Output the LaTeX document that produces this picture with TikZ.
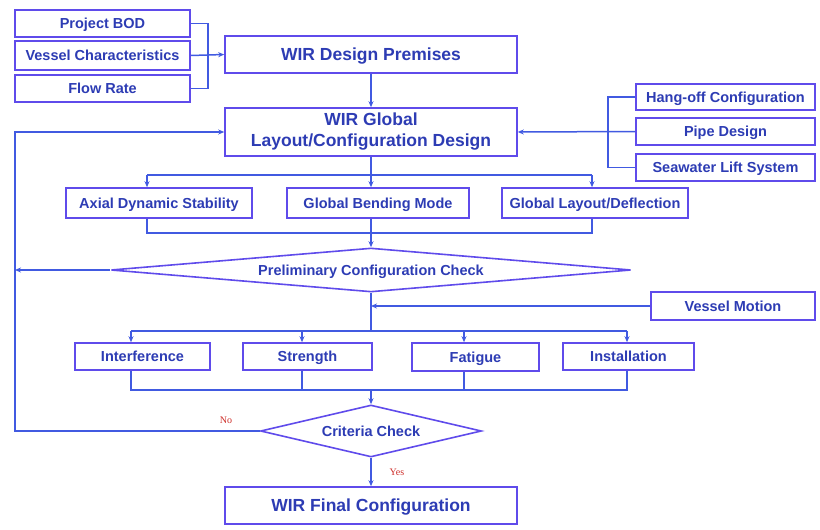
\documentclass[tikz,border=0pt]{standalone}
\usepackage{fontspec}
\setmainfont{Liberation Sans}
\newfontfamily\labserif{Liberation Serif}
\usetikzlibrary{arrows.meta,shapes.geometric}
\definecolor{boxc}{RGB}{95,75,235}
\definecolor{linec}{RGB}{65,90,225}
\definecolor{textc}{RGB}{45,60,180}
\definecolor{redc}{RGB}{205,45,40}
\tikzset{
  box/.style={draw=boxc,line width=1.6pt,fill=white,text=textc,inner sep=1pt,
    text depth=0pt,font=\fontsize{14.5}{16}\selectfont\bfseries,align=center},
  bigbox/.style={box,font=\fontsize{17.5}{21}\selectfont\bfseries},
  dia/.style={draw=boxc,line width=1.6pt,shape=diamond,inner sep=0pt,aspect=10,text=textc,
    text depth=0pt,font=\fontsize{14.5}{16}\selectfont\bfseries},
  conn/.style={draw=linec,line width=1.5pt},
  arr/.style={conn,-{Stealth[length=6pt,width=5pt]}},
  lab/.style={text=redc,font=\labserif\fontsize{10}{12}\selectfont}
}
\begin{document}
\begin{tikzpicture}[x=1pt,y=-1pt]
\useasboundingbox (0,0) rectangle (820,530);
% left input boxes
\node[box,minimum width=175pt,minimum height=27pt] (pbod) at (102.5,23.5) {Project BOD};
\node[box,minimum width=175pt,minimum height=29pt] (vessel) at (102.5,55.5) {Vessel Characteristics};
\node[box,minimum width=175pt,minimum height=27pt] (flow) at (102.5,88.5) {Flow Rate};
% main boxes
\node[bigbox,minimum width=292pt,minimum height=37pt] (prem) at (371,54.5) {WIR Design Premises};
\node[bigbox,minimum width=292pt,minimum height=48pt,text depth=4pt] (glob) at (371,132) {WIR Global\\Layout/Configuration Design};
% right input boxes
\node[box,minimum width=179pt,minimum height=26pt] (hang) at (725.5,97) {Hang-off Configuration};
\node[box,minimum width=179pt,minimum height=27pt] (pipe) at (725.5,131.5) {Pipe Design};
\node[box,minimum width=179pt,minimum height=27pt] (sea) at (725.5,167.5) {Seawater Lift System};
% analysis row 1
\node[box,minimum width=186pt,minimum height=30pt] (axial) at (159,203) {Axial Dynamic Stability};
\node[box,minimum width=182pt,minimum height=30pt] (gbm) at (378,203) {Global Bending Mode};
\node[box,minimum width=186pt,minimum height=30pt] (gld) at (595,203) {Global Layout/Deflection};
% diamond 1
\node[dia,minimum width=520pt,minimum height=44pt] (pcc) at (371,270) {Preliminary Configuration Check};
% vessel motion
\node[box,minimum width=164pt,minimum height=28pt] (vm) at (733,306) {Vessel Motion};
% analysis row 2
\node[box,minimum width=135pt,minimum height=27pt] (intf) at (142.5,356.5) {Interference};
\node[box,minimum width=129pt,minimum height=27pt] (str) at (307.5,356.5) {Strength};
\node[box,minimum width=127pt,minimum height=28pt] (fat) at (475.5,357) {Fatigue};
\node[box,minimum width=131pt,minimum height=27pt] (inst) at (628.5,356.5) {Installation};
% diamond 2
\node[dia,minimum width=221pt,minimum height=52pt] (cc) at (371,431) {Criteria Check};
% final
\node[bigbox,minimum width=292pt,minimum height=37pt] (final) at (371,505.5) {WIR Final Configuration};
% labels
\node[lab] (no) at (226,420) {No};
\node[lab] (yes) at (397,472) {Yes};
% coordinates
\coordinate (L) at (15,0);
\coordinate (t1) at (147,175);
\coordinate (t2) at (371,175);
\coordinate (t3) at (592,175);
\coordinate (u1) at (147,233);
\coordinate (u2) at (371,233);
\coordinate (u3) at (592,233);
\coordinate (v1) at (131,331);
\coordinate (v2) at (302,331);
\coordinate (v3) at (464,331);
\coordinate (v4) at (627,331);
\coordinate (vm1) at (371,331);
\coordinate (w1) at (131,390);
\coordinate (w2) at (302,390);
\coordinate (w3) at (464,390);
\coordinate (w4) at (627,390);
\coordinate (w0) at (371,390);
% connectors top
\draw[conn] (pbod.east) -- ++(17,0) |- (flow.east);
\draw[arr] (vessel.east) -- (prem.west);
\draw[arr] (prem.south) -- (glob.north);
\draw[conn] (hang.west) -- ++(-27,0) |- (sea.west);
\draw[arr] (pipe.west) -- (glob.east);
% distribution row 1
\draw[conn] (glob.south) -- (t2);
\draw[conn] (t1) -- (t3);
\draw[arr] (t1) -- (t1 |- axial.north);
\draw[arr] (t2) -- (t2 |- gbm.north);
\draw[arr] (t3) -- (t3 |- gld.north);
\draw[conn] (u1 |- axial.south) -- (u1) -- (u3) -- (u3 |- gld.south);
\draw[conn] (u2 |- gbm.south) -- (u2);
\draw[arr] (u2) -- (pcc.north);
% feedback from pcc
\draw[arr] (pcc.west) -- (pcc.west -| L);
% below pcc
\draw[conn] (pcc.south) -- (vm1);
\draw[arr] (vm.west) -- (vm.west -| vm1) ;
\draw[conn] (v1) -- (v4);
\draw[arr] (v1) -- (v1 |- intf.north);
\draw[arr] (v2) -- (v2 |- str.north);
\draw[arr] (v3) -- (v3 |- fat.north);
\draw[arr] (v4) -- (v4 |- inst.north);
\draw[conn] (w1 |- intf.south) -- (w1) -- (w4) -- (w4 |- inst.south);
\draw[conn] (w2 |- str.south) -- (w2);
\draw[conn] (w3 |- fat.south) -- (w3);
\draw[arr] (w0) -- (cc.north);
% criteria outputs
\draw[arr] (cc.west) -| (L |- glob.west) -- (glob.west);
\draw[arr] (cc.south) -- (final.north);
\end{tikzpicture}
\end{document}
